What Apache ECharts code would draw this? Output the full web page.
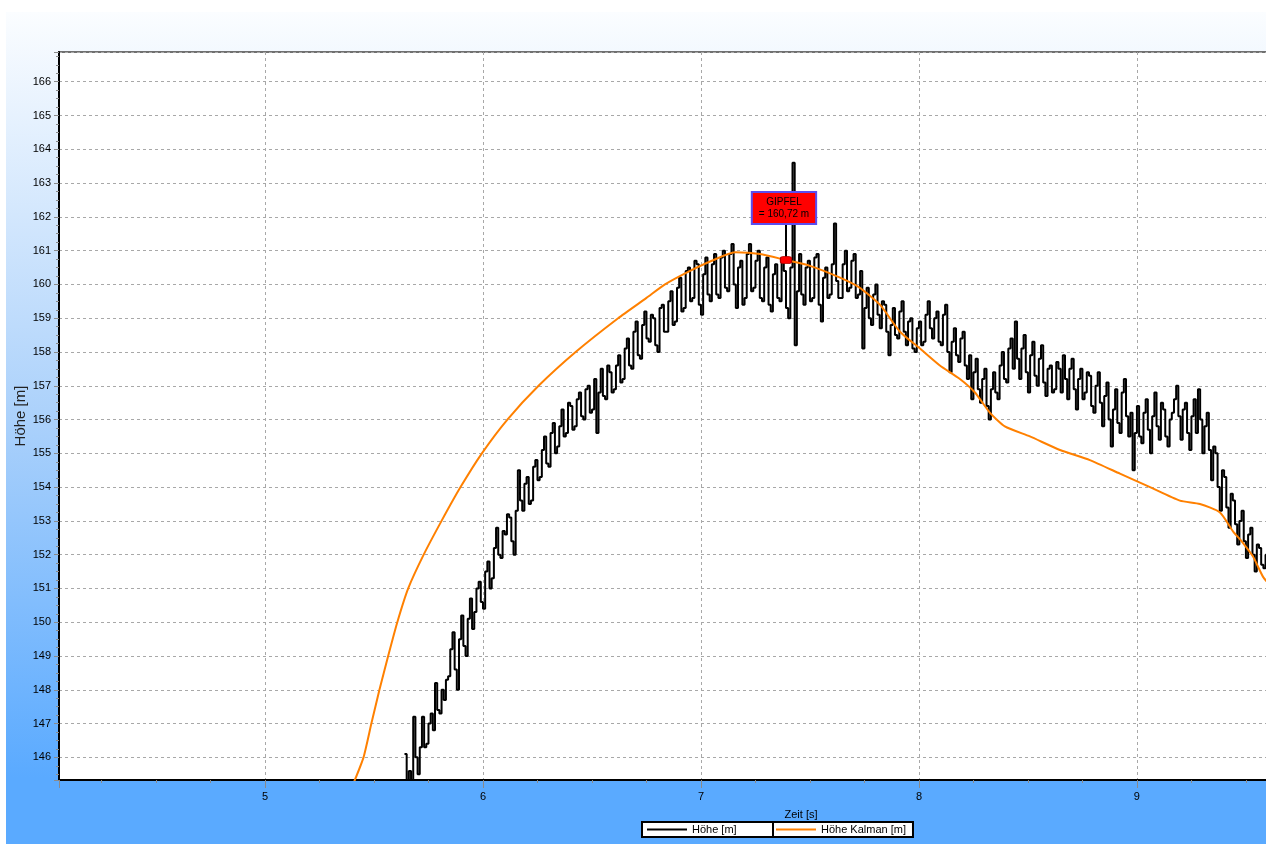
<!DOCTYPE html>
<html><head><meta charset="utf-8">
<script src="https://cdn.jsdelivr.net/npm/echarts@6/dist/echarts.min.js"></script>
<style>
html,body{margin:0;padding:0;background:#fff;overflow:hidden;width:1266px;height:844px}
#chart{position:absolute;left:6px;top:12px;width:1260px;height:832px}
</style>
</head><body><div id="chart"></div>
<script>
// ---- data ----
const timeStart = 5.64;   // s, first raw sample
const timeStep = 0.01;    // s, raw sampling step
const hoeheValues = [
  146.1,145.2,145.6,145.3,147.2,146.0,145.5,146.3,147.2,146.3,146.4,147.0,147.3,146.8,148.2,147.4,147.3,148.0,147.7,148.3,
  148.4,149.2,149.7,148.6,148.0,149.5,150.2,149.3,149.0,150.1,150.7,149.8,150.3,151.0,151.2,150.6,150.4,151.5,151.8,151.0,
  151.3,152.2,152.8,152.0,151.9,152.7,152.6,153.2,153.1,152.4,152.0,153.3,154.5,153.6,153.3,154.1,154.3,153.5,153.6,154.6,
  154.8,154.2,154.3,155.1,155.5,154.7,154.6,155.6,155.9,155.0,155.2,155.8,156.3,155.5,155.6,156.5,156.4,155.7,155.8,156.6,
  156.8,156.1,156.0,156.9,157.0,156.2,156.3,157.2,155.6,156.8,157.5,156.7,156.6,157.6,157.4,156.8,156.9,157.6,157.9,157.1,
  157.2,158.1,158.4,157.6,157.5,158.6,158.9,157.9,157.8,158.8,159.2,158.4,158.3,159.1,159.0,158.2,158.0,159.3,159.4,158.6,
  158.6,159.5,159.8,158.8,158.9,159.9,160.2,159.2,159.3,160.4,160.5,159.5,159.6,160.7,160.6,159.4,159.1,160.3,160.8,159.7,
  159.5,160.6,160.9,159.7,159.6,160.8,161.0,159.9,159.8,160.9,161.2,160.0,159.3,160.5,160.7,159.4,159.6,160.9,161.2,159.8,
  159.9,160.7,161.0,159.6,159.5,160.5,160.8,159.4,159.2,160.3,160.6,159.6,159.5,160.7,160.4,159.3,159.0,160.5,163.6,158.2,
  159.8,160.9,159.7,159.4,160.5,160.7,159.5,159.6,160.8,160.9,159.4,158.9,160.2,160.5,159.6,159.7,160.6,161.8,160.1,159.6,
  159.6,160.6,161.0,159.8,159.9,160.7,160.9,159.6,159.7,160.4,158.1,159.3,159.9,159.0,158.8,159.7,160.0,159.1,158.7,159.5,
  159.4,158.6,157.9,158.8,159.3,158.5,158.4,159.2,159.5,158.6,158.2,158.9,159.0,158.1,158.0,158.7,158.9,158.2,158.3,159.1,
  159.5,158.7,158.4,159.0,159.2,158.3,158.2,159.1,159.4,158.0,157.4,158.3,158.7,157.9,157.7,158.4,158.6,157.6,157.2,157.9,
  156.6,157.4,157.8,156.9,156.5,157.2,157.5,156.4,156.0,156.9,157.4,156.8,156.6,157.6,158.0,157.2,157.1,158.1,158.4,157.5,
  158.9,157.8,157.2,158.1,158.5,157.4,156.8,157.9,158.3,157.3,157.0,157.8,158.2,157.1,156.7,157.5,157.6,156.8,156.9,157.7,
  157.5,156.8,157.9,157.2,156.6,157.5,157.8,156.9,156.3,157.2,157.5,156.6,156.8,157.4,157.3,156.4,156.2,157.0,157.4,156.5,
  155.8,156.7,157.1,156.0,155.2,156.3,156.9,155.9,155.6,156.8,157.2,156.1,155.5,156.2,154.5,155.6,156.4,155.5,155.3,156.2,
  156.6,155.7,155.0,156.1,156.8,155.8,155.4,156.5,156.3,155.5,155.2,156.0,156.2,156.6,157.0,156.1,155.4,156.3,156.5,155.6,
  155.1,156.1,156.6,155.6,156.9,156.0,155.0,155.8,156.2,155.1,154.2,155.2,155.0,154.0,153.3,154.5,154.3,153.4,152.8,153.8,
  153.6,152.9,152.3,153.0,153.3,152.4,151.9,152.6,152.8,152.0,151.5,152.3,152.2,151.7,151.6,152.0,151.9
];
const kalmanTimes = [
  5.404, 5.452, 5.488, 5.525, 5.565, 5.607, 5.657, 5.728, 5.810, 5.897,
  5.995, 6.112, 6.255, 6.425, 6.620, 6.750, 6.835, 6.950, 7.050, 7.156,
  7.271, 7.390, 7.500, 7.638, 7.729, 7.821, 7.913, 8.005, 8.096, 8.188,
  8.257, 8.326, 8.394, 8.509, 8.647, 8.784, 8.922, 9.060, 9.197, 9.289,
  9.381, 9.440, 9.486, 9.532, 9.578, 9.610
];
const kalmanValues = [
  145.2, 146.0, 147.0, 148.0, 149.0, 150.0, 151.0, 152.0, 153.0, 154.0,
  155.0, 156.0, 157.0, 158.0, 159.0, 159.6, 160.0, 160.4, 160.7, 160.95,
  160.9, 160.72, 160.55, 160.2, 159.9, 159.4, 158.6, 158.1, 157.6, 157.2,
  156.8, 156.2, 155.8, 155.5, 155.1, 154.8, 154.4, 154.0, 153.6, 153.5,
  153.25, 152.7, 152.35, 151.95, 151.35, 151.1
];
const peakTime = 7.39;
const peakValue = 160.72;
const peakLabel = 'GIPFEL\n= 160,72 m';
const pointerTop = 161.79;
const seriesNames = ['Höhe [m]', 'Höhe Kalman [m]'];
const xAxisName = 'Zeit [s]';
const yAxisName = 'Höhe [m]';

// ---- chart ----
const FONT = '"Liberation Sans", Arial, Helvetica, sans-serif';
const hoeheData = hoeheValues.map((v, i) => [+(timeStart + i * timeStep).toFixed(3), v]);
const kalmanData = kalmanTimes.map((t, i) => [t, kalmanValues[i]]);

const chart = echarts.init(document.getElementById('chart'), null, {renderer: 'canvas'});
const grey = '#8a8a8a';
chart.setOption({
  animation: false,
  backgroundColor: {type: 'linear', x: 0, y: 0, x2: 0, y2: 1, colorStops: [
    {offset: 0, color: '#fbfdff'}, {offset: 0.5, color: '#a9d0fb'}, {offset: 0.92, color: '#5aaaff'}, {offset: 1, color: '#5aaaff'}]},
  textStyle: {fontFamily: FONT},
  grid: {left: 53, top: 40, right: -10, bottom: 64, containLabel: false, outerBoundsMode: 'none',
         show: true, backgroundColor: '#fff', borderColor: '#707070', borderWidth: 2},
  legend: [
    {data: [seriesNames[0]], left: 636, top: 810, orient: 'horizontal', icon: 'rect', itemWidth: 40, itemHeight: 2,
     backgroundColor: '#fff', borderColor: '#000', borderWidth: 2, borderRadius: 0, padding: [2, 39, 2, 5],
     textStyle: {fontSize: 11, color: '#000', fontFamily: FONT}, selectedMode: false},
    {data: [seriesNames[1]], left: 767, top: 810, orient: 'horizontal', icon: 'rect', itemWidth: 40, itemHeight: 2,
     backgroundColor: '#fff', borderColor: '#000', borderWidth: 2, borderRadius: 0, padding: [2, 7, 2, 3],
     textStyle: {fontSize: 11, color: '#000', fontFamily: FONT}, selectedMode: false}
  ],
  xAxis: {
    type: 'value', min: 4.055, max: 9.638, splitNumber: 5,
    name: xAxisName, nameLocation: 'middle', nameGap: 29, nameMoveOverlap: false,
    nameTextStyle: {fontSize: 11, color: '#000', padding: [0, 0, 0, 267]},
    axisLine: {show: true, onZero: false, lineStyle: {color: '#000', width: 2}},
    axisTick: {show: true, inside: false, length: 8, lineStyle: {color: grey}},
    minorTick: {show: true, splitNumber: 4, length: 3, lineStyle: {color: grey}},
    axisLabel: {fontSize: 11, color: '#000', margin: 11, showMinLabel: false, showMaxLabel: false},
    splitLine: {show: true, lineStyle: {color: '#a8a8a8', type: [3, 3], width: 1}}
  },
  yAxis: {
    type: 'value', min: 145.33, max: 166.88, splitNumber: 21,
    name: yAxisName, nameLocation: 'middle', nameGap: 31, nameMoveOverlap: false,
    nameTextStyle: {fontSize: 15, color: '#222'},
    axisLine: {show: true, onZero: false, lineStyle: {color: '#000', width: 2}},
    axisTick: {show: true, inside: false, length: 5, lineStyle: {color: grey}},
    minorTick: {show: true, splitNumber: 4, length: 3, lineStyle: {color: grey}},
    axisLabel: {fontSize: 11, color: '#000', margin: 8, showMinLabel: false, showMaxLabel: false},
    splitLine: {show: true, lineStyle: {color: '#a8a8a8', type: [3, 3], width: 1}}
  },
  series: [
    {name: seriesNames[0], type: 'line', data: hoeheData, step: 'end', symbol: 'none', showSymbol: false,
     color: '#000', lineStyle: {color: '#000', width: 2}, z: 2, clip: true},
    {name: seriesNames[1], type: 'line', data: kalmanData, symbol: 'none', showSymbol: false, smooth: 0.2,
     color: '#ff8000', lineStyle: {color: '#ff8000', width: 2}, z: 3, clip: true,
     markLine: {silent: true, symbol: ['none', 'none'], label: {show: false},
       lineStyle: {color: '#000', width: 2, type: 'solid'},
       data: [[{coord: [peakTime, peakValue]}, {coord: [peakTime, pointerTop]}]]},
     markPoint: {silent: true, symbol: 'roundRect', symbolSize: [11, 7],
       itemStyle: {color: '#ff0000', borderColor: '#b00000', borderWidth: 1},
       label: {show: true, position: 'inside', offset: [-2, -52], formatter: peakLabel,
         fontSize: 10, lineHeight: 12, color: '#000', fontFamily: FONT, align: 'center',
         backgroundColor: '#ff0000', borderColor: '#5a4ef0', borderWidth: 2, padding: [3, 6, 3, 6]},
       data: [{coord: [peakTime, peakValue], value: peakValue}]}}
  ]
});
</script></body></html>
